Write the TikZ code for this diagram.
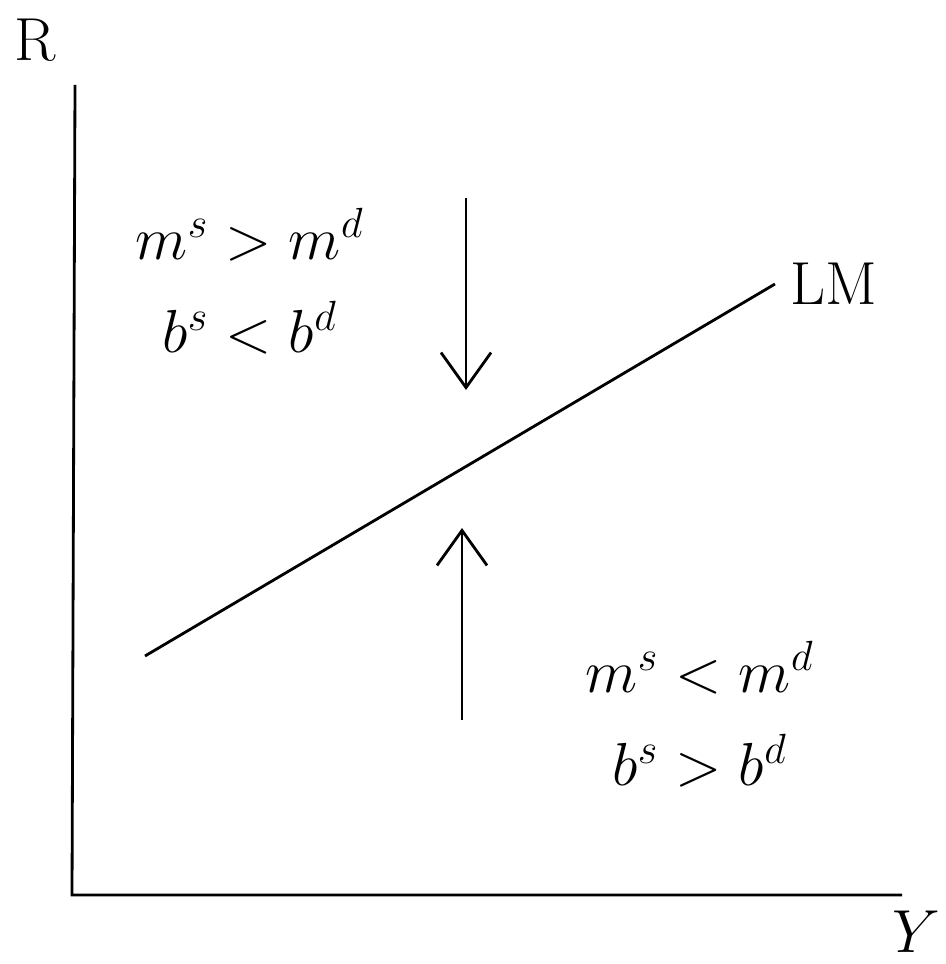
\documentclass[tikz,border=0pt]{standalone}
\usepackage{amsmath,amssymb}
\usetikzlibrary{positioning,arrows.meta}

\begin{document}
\begin{tikzpicture}[x=0.01cm,y=-0.01cm,>={Straight Barb[length=3.5mm,width=5mm]},font=\LARGE]
\useasboundingbox (0,0) rectangle (945,964);
\coordinate (o) at (72,895);
\coordinate (ytop) at (75,85);
\coordinate (xend) at (902,895);
\node (r) at (35,40) {R};
\node[anchor=east,inner sep=1pt] (y) at (944,932) {$Y$};
\coordinate (lm0) at (145,656);
\coordinate (lm1) at (775,284);
\node[anchor=west] (lm) at (778,284) {LM};
\node (t1) at (250,235) {$m^{s} > m^{d}$};
\node[below=0.15cm of t1] (t2) {$b^{s} < b^{d}$};
\node (t3) at (700,668) {$m^{s} < m^{d}$};
\node[below=0.15cm of t3] (t4) {$b^{s} > b^{d}$};
\coordinate (d0) at (466,198);
\coordinate (d1) at (466,390);
\coordinate (u0) at (462,720);
\coordinate (u1) at (462,528);
\draw[thick] (ytop) -- (o) -- (xend);
\draw[thick] (lm0) -- (lm1);
\draw[thick,->] (d0) -- (d1);
\draw[thick,->] (u0) -- (u1);
\end{tikzpicture}
\end{document}
